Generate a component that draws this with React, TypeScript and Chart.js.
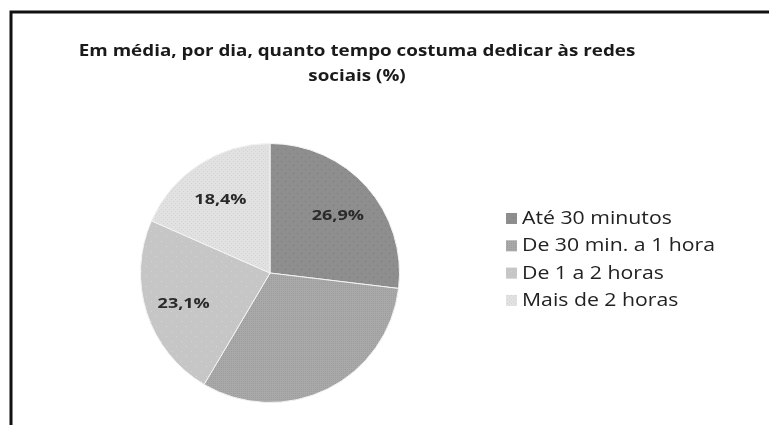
import React, { useEffect, useRef } from "react";
import { Chart, registerables } from "chart.js";

Chart.register(...registerables);

const titleLines = ["Em média, por dia, quanto tempo costuma dedicar às redes", "sociais (%)"];
const categories = ["Até 30 minutos", "De 30 min. a 1 hora", "De 1 a 2 horas", "Mais de 2 horas"];
const values = [26.9, 31.6, 23.1, 18.4];
const valueLabels = ["26,9%", "", "23,1%", "18,4%"];
const baseColors = ["#8e8e8e", "#a9a9a9", "#c6c6c6", "#e1e1e1"];
const dotColors = ["#7a7a7a", "#9c9c9c", "#d6d6d6", "#d4d4d4"];

function makePattern(base: string, dot: string, step: number): CanvasPattern | string {
  const c = document.createElement("canvas");
  c.width = step;
  c.height = step;
  const g = c.getContext("2d");
  if (!g) return base;
  g.fillStyle = base;
  g.fillRect(0, 0, step, step);
  g.fillStyle = dot;
  g.fillRect(1, 1, 1, 1);
  g.fillRect(1 + step / 2, 1 + step / 2, 1, 1);
  const p = g.createPattern(c, "repeat");
  return p || base;
}

function stretchText(ctx: CanvasRenderingContext2D, text: string, x: number, y: number, sx: number) {
  ctx.save();
  ctx.translate(x, y);
  ctx.scale(sx, 1);
  ctx.fillText(text, 0, 0);
  ctx.restore();
}

export default function App() {
  const ref = useRef<HTMLCanvasElement | null>(null);

  useEffect(() => {
    document.body.style.margin = "0";
    const canvas = ref.current;
    if (!canvas) return;
    const fills = [
      makePattern(baseColors[0], dotColors[0], 8),
      makePattern(baseColors[1], dotColors[1], 2),
      makePattern(baseColors[2], dotColors[2], 10),
      makePattern(baseColors[3], dotColors[3], 4),
    ];

    const decor = {
      id: "decor",
      beforeDraw(chart: any) {
        const ctx = chart.ctx;
        ctx.save();
        ctx.fillStyle = "#ffffff";
        ctx.fillRect(0, 0, chart.width, chart.height);
        ctx.strokeStyle = "#111111";
        ctx.lineWidth = 3;
        ctx.beginPath();
        ctx.moveTo(11, 425);
        ctx.lineTo(11, 12);
        ctx.lineTo(769, 12);
        ctx.stroke();
        // title
        ctx.fillStyle = "#1a1a1a";
        ctx.font = "bold 16.5px 'Open Sans', sans-serif";
        ctx.textAlign = "center";
        ctx.textBaseline = "middle";
        stretchText(ctx, titleLines[0], 357, 51, 1.14);
        stretchText(ctx, titleLines[1], 357, 76, 1.14);
        ctx.restore();
      },
      afterDraw(chart: any) {
        const ctx = chart.ctx;
        const meta = chart.getDatasetMeta(0);
        ctx.save();
        // value labels
        ctx.font = "bold 15px 'Open Sans', sans-serif";
        ctx.fillStyle = "#2a2a2a";
        ctx.textAlign = "center";
        ctx.textBaseline = "middle";
        meta.data.forEach((arc: any, i: number) => {
          if (!valueLabels[i]) return;
          const p = arc.getProps(["x", "y", "startAngle", "endAngle", "outerRadius"], true);
          const mid = (p.startAngle + p.endAngle) / 2;
          const r = p.outerRadius * 0.7;
          stretchText(ctx, valueLabels[i], p.x + Math.cos(mid) * r, p.y + Math.sin(mid) * r + 3, 1.2);
        });
        // legend
        ctx.font = "18px 'Open Sans', sans-serif";
        ctx.textAlign = "left";
        categories.forEach((c, i) => {
          const y = 218 + i * 27.3;
          ctx.fillStyle = fills[i] as any;
          ctx.fillRect(506, y - 5, 11, 11);
          ctx.fillStyle = "#222222";
          stretchText(ctx, c, 522, y + 1, 1.18);
        });
        ctx.restore();
      },
    };

    const chart = new Chart(canvas, {
      type: "pie",
      data: {
        labels: categories,
        datasets: [
          {
            data: values,
            backgroundColor: fills as any,
            borderColor: "#f4f4f4",
            borderWidth: 1,
          },
        ],
      },
      options: {
        animation: false,
        responsive: false,
        maintainAspectRatio: false,
        layout: { padding: { left: 140, top: 143, right: 369, bottom: 22 } },
        plugins: {
          legend: { display: false },
          title: { display: false },
          tooltip: { enabled: false },
        },
      },
      plugins: [decor],
    });
    return () => chart.destroy();
  }, []);

  return (
    <div style={{ position: "fixed", left: 0, top: 0, width: 769, height: 425 }}>
      <canvas ref={ref} width={769} height={425} style={{ width: 769, height: 425, display: "block" }} />
    </div>
  );
}
